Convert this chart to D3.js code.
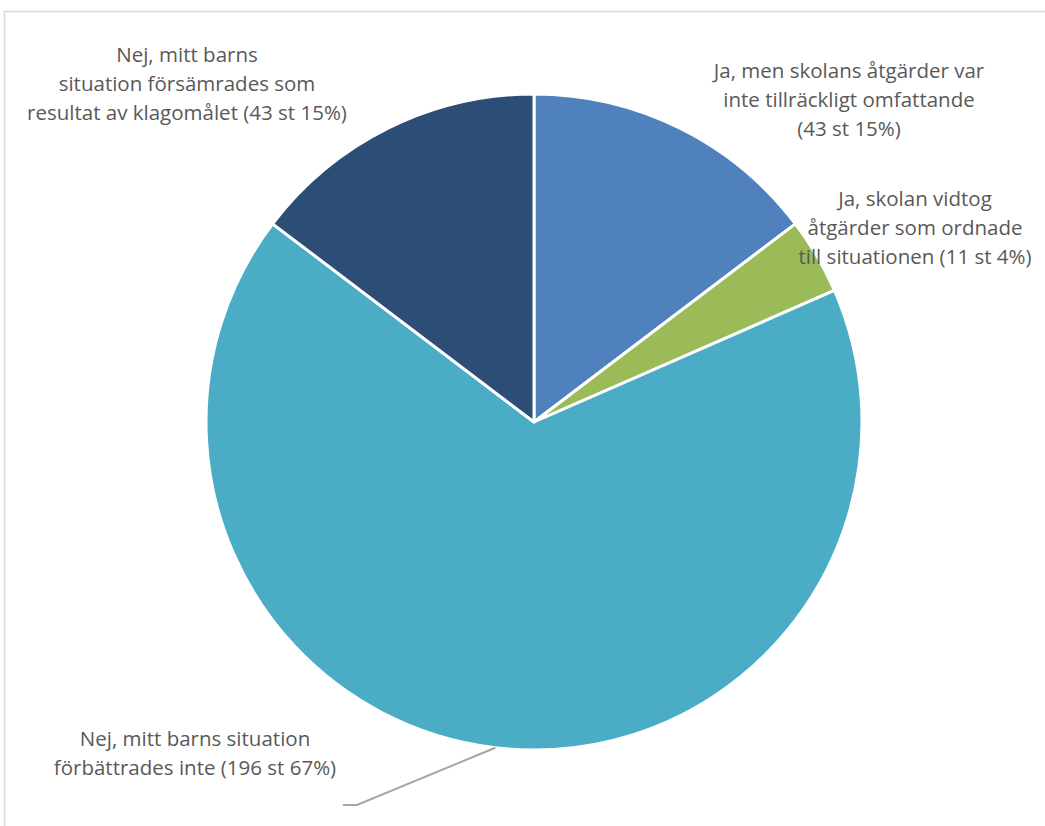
<!DOCTYPE html>
<html>
<head>
<meta charset="utf-8">
<script src="https://d3js.org/d3.v7.min.js"></script>
<style>
  body { margin: 0; background: #fff; }
  svg { display: block; }
</style>
</head>
<body>
<div id="chart"></div>
<script>
// answers, clockwise from 12 o'clock
var categories = [
  "Ja, men skolans åtgärder var inte tillräckligt omfattande",
  "Ja, skolan vidtog åtgärder som ordnade till situationen",
  "Nej, mitt barns situation förbättrades inte",
  "Nej, mitt barns situation försämrades som resultat av klagomålet"
];
var counts = [43, 11, 196, 43];
var percents = [15, 4, 67, 15];
var labelLines = [
  ["Ja, men skolans åtgärder var", "inte tillräckligt omfattande", "(43 st 15%)"],
  ["Ja, skolan vidtog", "åtgärder som ordnade", "till situationen (11 st 4%)"],
  ["Nej, mitt barns situation", "förbättrades inte (196 st 67%)"],
  ["Nej, mitt barns", "situation försämrades som", "resultat av klagomålet (43 st 15%)"]
];
var colors = ["#4f81bd", "#9bbb59", "#4bacc6", "#2c4d75"];

var width = 1045, height = 826;
var cx = 534, cy = 422, radius = 328;
// label centres relative to the pie centre (layout only)
var labelOffsets = [[315, -322], [381, -194], [-339, 331], [-347, -338]];
var lineHeight = 29;

var svg = d3.select("#chart").append("svg")
  .attr("width", width)
  .attr("height", height);

// chart area border
svg.append("rect")
  .attr("x", 4.5).attr("y", 11.5)
  .attr("width", 1100).attr("height", 900)
  .attr("fill", "none")
  .attr("stroke", "#d9d9d9")
  .attr("stroke-width", 1.5);

var g = svg.append("g").attr("transform", "translate(" + cx + "," + cy + ")");

var pie = d3.pie().sort(null).value(function(d) { return d; });
var arcs = pie(counts);
var arc = d3.arc().innerRadius(0).outerRadius(radius);

g.selectAll("path.slice")
  .data(arcs)
  .enter().append("path")
  .attr("class", "slice")
  .attr("d", arc)
  .attr("fill", function(d, i) { return colors[i]; })
  .attr("stroke", "#fff")
  .attr("stroke-width", 3)
  .attr("stroke-linejoin", "round");

// labels
var labels = g.selectAll("text.label")
  .data(arcs)
  .enter().append("text")
  .attr("class", "label")
  .attr("text-anchor", "middle")
  .attr("font-family", "'Open Sans', sans-serif")
  .attr("font-size", 20.5)
  .attr("fill", "#595959")
  .attr("transform", function(d, i) {
    var n = labelLines[i].length;
    var y0 = labelOffsets[i][1] - (n - 1) * lineHeight / 2 + 7;
    return "translate(" + labelOffsets[i][0] + "," + y0 + ")";
  });
labels.selectAll("tspan")
  .data(function(d, i) { return labelLines[i]; })
  .enter().append("tspan")
  .attr("x", 0)
  .attr("dy", function(d, j) { return j === 0 ? 0 : lineHeight; })
  .text(function(d) { return d; });

// leader line for the big slice
var big = arcs[2];
var mid = (big.startAngle + big.endAngle) / 2;
var p0 = [Math.sin(mid) * radius, -Math.cos(mid) * radius];
var lab = labelOffsets[2];
var p2 = [lab[0] + 148, lab[1] + 52];
var p1 = [p2[0] + 14, p2[1]];
g.append("polyline")
  .attr("points", [p0, p1, p2].map(function(p) { return p.join(","); }).join(" "))
  .attr("fill", "none")
  .attr("stroke", "#a6a6a6")
  .attr("stroke-width", 2);
</script>
</body>
</html>
